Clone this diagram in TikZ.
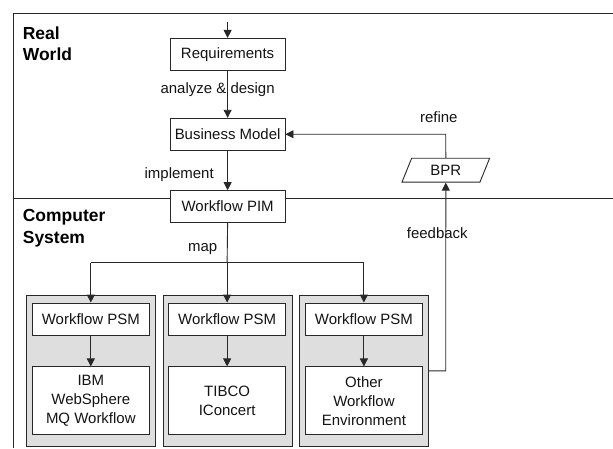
\documentclass[tikz,border=0pt]{standalone}
\usepackage{fontspec}
\setmainfont{Liberation Sans}
\usetikzlibrary{arrows.meta,shapes.geometric}
\definecolor{linegray}{RGB}{40,40,40}
\definecolor{panelgray}{RGB}{222,222,222}
\definecolor{textgray}{RGB}{20,20,20}
\begin{document}
\begin{tikzpicture}[x=1pt,y=-1pt,
  every path/.style={line width=0.9pt, draw=linegray},
  arr/.style={-{Triangle[length=8pt,width=8pt]}},
  boxnode/.style={draw=linegray, fill=white, line width=0.9pt, inner sep=0pt, text=textgray, font=\fontsize{15}{19}\selectfont, align=center},
  lbl/.style={font=\fontsize{15}{19}\selectfont, inner sep=0pt, text=textgray},
  region/.style={font=\bfseries\fontsize{17.5}{22}\selectfont, inner sep=0pt, align=left, anchor=north west},
  panel/.style={draw=linegray, fill=panelgray, line width=0.9pt}
]
\useasboundingbox (0,0) rectangle (613,448);
\fill[white] (0,0) rectangle (613,448);
% frame
\draw (13,448) -- (13,13) -- (613,13);
\draw (13,198) -- (613,198);
% region labels
\node[region] (rw) at (22,25.5) {Real\\World};
\node[region] (cs) at (22,209) {Computer\\System};
% panels
\draw[panel] (26,295) rectangle (155,446.5);
\draw[panel] (163,295) rectangle (292,446.5);
\draw[panel] (299,295) rectangle (429,446.5);
% top boxes
\node[boxnode, minimum width=115pt, minimum height=32pt] (req) at (227.5,54) {Requirements};
\node[boxnode, minimum width=115pt, minimum height=32pt] (bm) at (227.5,134) {Business Model};
\node[boxnode, minimum width=115pt, minimum height=32pt] (pim) at (227.5,206.5) {Workflow PIM};
\node[trapezium, trapezium left angle=67, trapezium right angle=113, draw=linegray, fill=white, line width=0.9pt,
  minimum width=88pt, minimum height=24pt, inner sep=0pt, text=textgray, font=\fontsize{15}{19}\selectfont,
  trapezium stretches=true] (bpr) at (446,170) {BPR};
% PSM boxes
\foreach \n/\x in {1/90.5, 2/227, 3/364} {
  \node[boxnode, minimum width=117pt, minimum height=32pt] (psm\n) at (\x,319) {Workflow PSM};
}
\node[boxnode, minimum width=117pt, minimum height=68pt] (env1) at (90.5,401) {IBM\\WebSphere\\MQ Workflow};
\node[boxnode, minimum width=117pt, minimum height=68pt] (env2) at (227,401) {TIBCO\\IConcert};
\node[boxnode, minimum width=117pt, minimum height=68pt] (env3) at (364,401) {Other\\Workflow\\Environment};
% arrows top
\coordinate (start) at (227.5,22);
\draw[arr] (start) -- (req);
\node[lbl] (ad) at (217.5,89) {analyze \&{} design};
\draw[arr] (req) -- (bm);
\draw[arr] (bm) -- (pim);
\node[lbl] (impl) at (179,174) {implement};
% refine
\coordinate (rc) at (446,134);
\draw[arr] (bpr.north) -- (rc) -- (bm.east);
\node[lbl] (ref) at (439,117) {refine};
% feedback
\coordinate (fc) at (446,371);
\draw[arr] (429,371) -- (fc) -- (bpr.south);
\node[lbl] (fb) at (437.5,233) {feedback};
% map
\coordinate (mc) at (227,262.5);
\coordinate (ml) at (90.5,262.5);
\coordinate (mr) at (364,262.5);
\draw (pim.south) -- (mc);
\draw (ml) -- (mr);
\draw[arr] (ml) -- (psm1.north);
\draw[arr] (mc) -- (psm2.north);
\draw[arr] (mr) -- (psm3.north);
\node[lbl] (mp) at (202.5,249) {map};
% PSM to env
\draw[arr] (psm1) -- (env1);
\draw[arr] (psm2) -- (env2);
\draw[arr] (psm3) -- (env3);
\end{tikzpicture}
\end{document}
